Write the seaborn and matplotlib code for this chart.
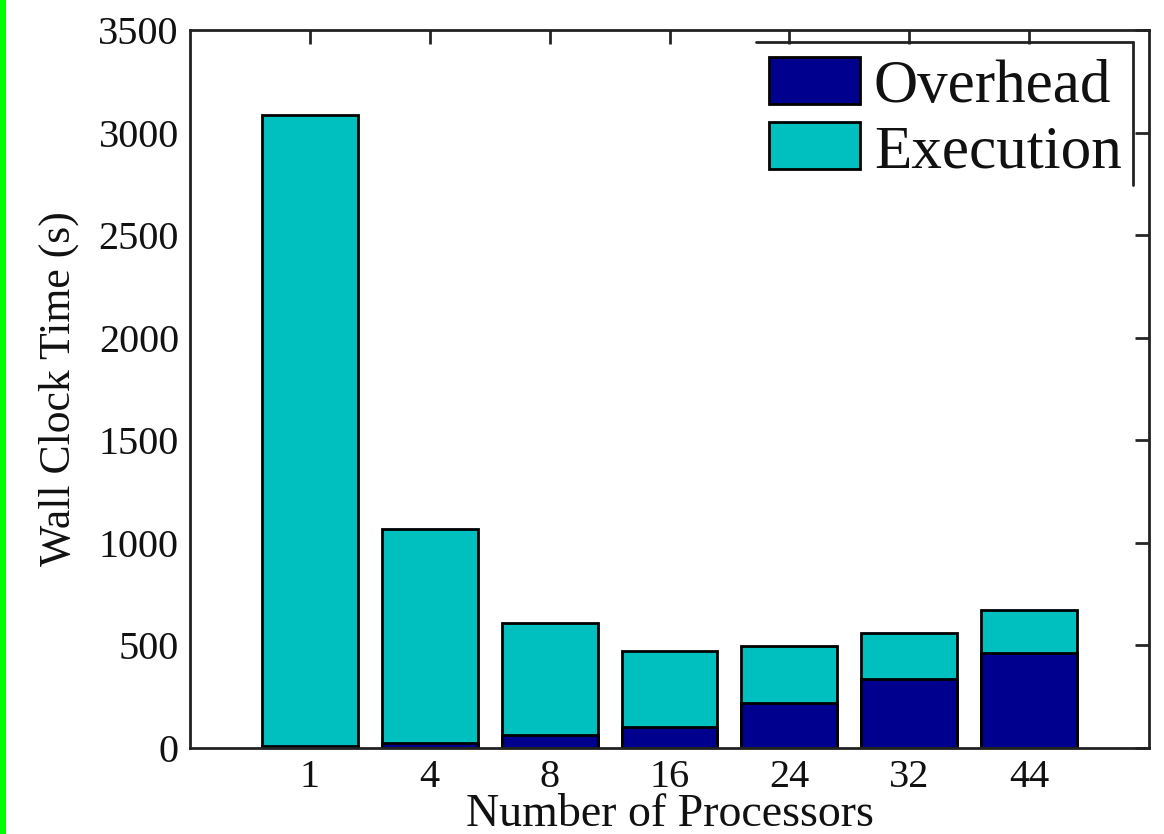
import matplotlib
matplotlib.use("Agg")

import matplotlib.pyplot as plt
import seaborn as sns
import pandas as pd
from matplotlib.patches import Patch, Rectangle
from matplotlib.lines import Line2D

# values
processors = ["1", "4", "8", "16", "24", "32", "44"]
overhead = [12, 25, 63, 102, 220, 337, 463]
execution = [3076, 1043, 547, 371, 278, 224, 210]

df = pd.DataFrame({"procs": processors, "overhead": overhead, "execution": execution})
df["total"] = df["overhead"] + df["execution"]

sns.set_style("white")
plt.rcParams["font.family"] = ["Liberation Serif", "DejaVu Serif"]

navy = "#00008F"
cyan = "#00BFBF"

fig = plt.figure(figsize=(11.64, 8.34), dpi=100)
ax = fig.add_axes([190 / 1164, 1 - 748 / 834, (1149 - 190) / 1164, (748 - 30) / 834])

# stacked bars: total in cyan, overhead drawn over it in navy
sns.barplot(data=df, x="procs", y="total", order=processors, color=cyan,
            width=0.8, edgecolor="black", linewidth=2, saturation=1, ax=ax)
sns.barplot(data=df, x="procs", y="overhead", order=processors, color=navy,
            width=0.8, edgecolor="black", linewidth=2, saturation=1, ax=ax)

ax.set_xlim(-1, 7)
ax.set_ylim(0, 3500)
ax.set_yticks(range(0, 3501, 500))
ax.set_xlabel("Number of Processors", fontsize=33, labelpad=-2, color="#111111")
ax.set_ylabel("Wall Clock Time (s)", fontsize=31.5, labelpad=14, color="#111111")

ax.tick_params(axis="both", direction="in", length=10, width=2, labelsize=29,
               top=True, right=True, pad=8, labelcolor="#111111")
for s in ax.spines.values():
    s.set_linewidth(2)
    s.set_color("#222222")
    s.set_visible(True)

handles = [Patch(facecolor=navy, edgecolor="black", linewidth=2, label="Overhead"),
           Patch(facecolor=cyan, edgecolor="black", linewidth=2, label="Execution")]
ax.legend(handles=handles, loc="upper right", bbox_to_anchor=(1146 / 1164, 1 - 33 / 834),
          bbox_transform=fig.transFigure, frameon=False, fontsize=44,
          handlelength=1.5, handleheight=0.8, handletextpad=0.22,
          labelspacing=0.12, borderaxespad=0, labelcolor="#111111")

# the legend frame in the source only shows its top and right edges
fig.add_artist(Line2D([756 / 1164, 1133 / 1164], [1 - 42 / 834, 1 - 42 / 834],
                      color="#222222", linewidth=2))
fig.add_artist(Line2D([1133 / 1164, 1133 / 1164], [1 - 42 / 834, 1 - 185 / 834],
                      color="#222222", linewidth=2))

# green stripe on the left edge of the source image
fig.add_artist(Rectangle((0, 0), 6 / 1164, 1, transform=fig.transFigure,
                         facecolor="#00FF00", edgecolor="none"))

fig.savefig("out.png", dpi=100)
